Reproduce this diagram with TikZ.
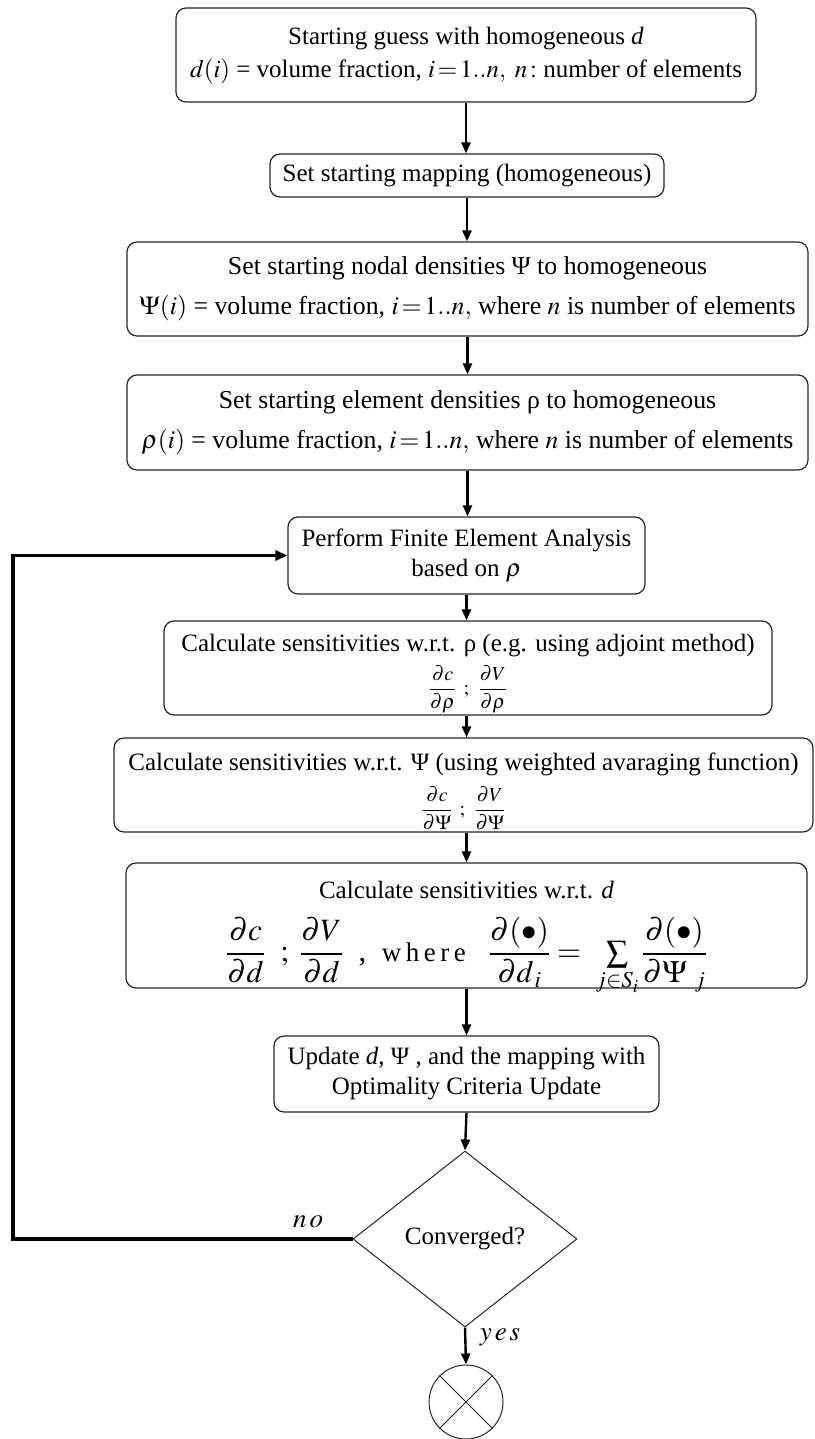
\documentclass[tikz,border=0pt]{standalone}
\usepackage{mathptmx}
\usepackage{fontspec}
\setmainfont{Liberation Serif}
\usetikzlibrary{shapes.geometric,arrows.meta}
\begin{document}
\begin{tikzpicture}[x=1pt,y=-1pt,
  box/.style={draw=black!85, line width=1.2pt, rounded corners=10pt, align=center, inner sep=0pt,
    font=\fontsize{25}{30}\selectfont},
  bigbox/.style={box, font=\fontsize{25.8}{30}\selectfont},
  arr/.style={line width=2.4pt, -{Triangle[length=11pt,width=9pt]}},
  loopline/.style={line width=3.6pt, -{Triangle[length=12pt,width=10pt]}},
  lbl/.style={inner sep=0pt, font=\fontsize{27}{30}\selectfont}
]
\useasboundingbox (0,0) rectangle (814,1439);

\node[box, minimum width=580pt, minimum height=94pt] (b1) at (466,55)
  {Starting guess with homogeneous \textit{d}\\[3pt]
   $d(i)$ = volume fraction, $i\,{=}\,1..n,\ n\,{:}$ number of elements};

\node[box, minimum width=394pt, minimum height=43pt] (b2) at (467,175.5)
  {Set starting mapping (homogeneous)};

\node[bigbox, minimum width=681pt, minimum height=94pt] (b3) at (467.5,289)
  {Set starting nodal densities Ψ to homogeneous\\[10pt]
   $\Psi(i)$ = volume fraction, $i\,{=}\,1..n,$ where $n$ is number of elements};

\node[bigbox, minimum width=681pt, minimum height=95pt] (b4) at (467.5,422.5)
  {Set starting element densities ρ to homogeneous\\[10pt]
   $\rho(i)$ = volume fraction, $i\,{=}\,1..n,$ where $n$ is number of elements};

\node[box, minimum width=357pt, minimum height=77pt] (fea) at (466.5,555.5)
  {Perform Finite Element Analysis\\ based on $\rho$};

\node[box, minimum width=608pt, minimum height=94pt] (crho) at (468,668)
  {Calculate sensitivities w.r.t. ρ (e.g. using adjoint method)\\[8pt]
   \raisebox{0pt}[\height][7.5pt]{\fontsize{20}{22}\selectfont $\displaystyle\frac{\partial c}{\partial\rho}\ \,;\ \,\frac{\partial V}{\partial\rho}$}};

\node[box, minimum width=699pt, minimum height=94pt] (cpsi) at (463.5,785)
  {Calculate sensitivities w.r.t. Ψ (using weighted avaraging function)\\[10pt]
   \raisebox{0pt}[\height][1.5pt]{\fontsize{20}{22}\selectfont $\displaystyle\frac{\partial c}{\partial\Psi}\ \,;\ \,\frac{\partial V}{\partial\Psi}$}};

\node[box, minimum width=681pt, minimum height=125pt] (cd) at (466.5,925.5)
  {Calculate sensitivities w.r.t. \textit{d}\\[18pt]
   \raisebox{0pt}[\height][8.5pt]{\fontsize{31}{34}\selectfont $\displaystyle\frac{\partial c}{\partial d}\ \ ;\ \frac{\partial V}{\partial d}$\ \ ,\ \ {\fontsize{27}{30}\selectfont w\,h\,e\,r\,e}\ \ \ $\displaystyle\frac{\partial(\bullet)}{\partial d_{\,i}}=\ \textstyle\sum\limits_{j\in S_i}\displaystyle\frac{\partial(\bullet)}{\partial\Psi_{\ j}}$}};

\node[box, minimum width=385pt, minimum height=76pt] (upd) at (466.5,1074)
  {Update \textit{d}, Ψ , and the mapping with\\ Optimality Criteria Update};

\node[diamond, draw=black!85, line width=1pt, minimum width=224pt, minimum height=176pt, aspect=1.27,
  inner sep=0pt, font=\fontsize{25}{30}\selectfont] (dia) at (465,1239) {Converged?};

\node[circle, draw=black!85, line width=1pt, minimum size=74pt, inner sep=0pt] (endc) at (466,1402) {};
\draw[line width=1pt, black!85] (endc.north east) -- (endc.south west);
\draw[line width=1pt, black!85] (endc.north west) -- (endc.south east);

\draw[arr] (b1.south) -- (b1.south |- b2.north);
\draw[arr] (b2.south) -- (b2.south |- b3.north);
\draw[arr] (b3.south) -- (b3.south |- b4.north);
\draw[arr] (b4.south) -- (b4.south |- fea.north);
\draw[arr] (fea.south) -- (fea.south |- crho.north);
\draw[arr] (fea.south |- crho.south) -- (fea.south |- cpsi.north);
\draw[arr] (fea.south |- cpsi.south) -- (fea.south |- cd.north);
\draw[arr] (fea.south |- cd.south) -- (fea.south |- upd.north);
\draw[arr] (upd.south) -- (dia.north);
\draw[arr] (dia.south) -- (endc.north);

\coordinate (lp) at (13,1239);
\draw[loopline] (dia.west) -- (lp) |- (fea.west);

\node[lbl] (no) at (308,1222) {$n\,o$};
\node[lbl] (yes) at (500,1337) {$y\,e\,s$};
\end{tikzpicture}
\end{document}
